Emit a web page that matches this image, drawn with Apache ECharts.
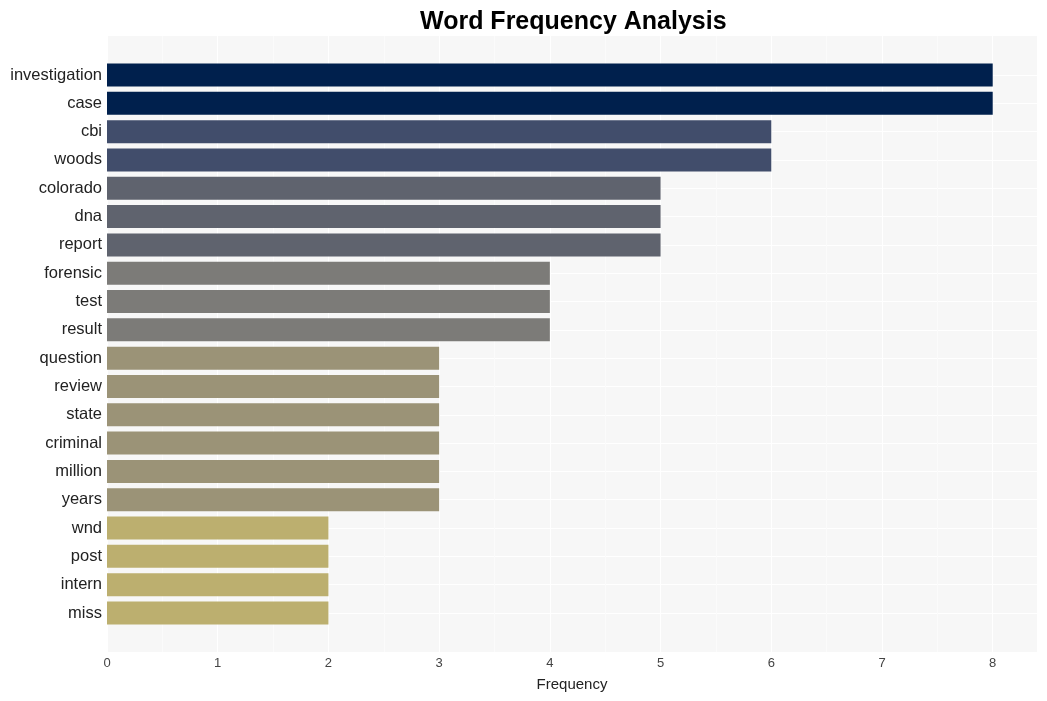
<!DOCTYPE html>
<html>
<head>
<meta charset="utf-8">
<script src="https://cdn.jsdelivr.net/npm/echarts@6/dist/echarts.min.js"></script>
<style>html,body{margin:0;padding:0;background:#fff}#c{width:1047px;height:701px}</style>
</head>
<body>
<div id="c"></div>
<script>
const words = ["investigation","case","cbi","woods","colorado","dna","report","forensic","test","result","question","review","state","criminal","million","years","wnd","post","intern","miss"];
const counts = [8,8,6,6,5,5,5,4,4,4,3,3,3,3,3,3,2,2,2,2];
const xTicks = [0,1,2,3,4,5,6,7,8];
const colorByCount = {8:"#00204d",6:"#414d6b",5:"#5f636e",4:"#7c7b78",3:"#9b9377",2:"#bcaf6f"};

const chart = echarts.init(document.getElementById('c'));
const font = "'Liberation Sans', Arial, sans-serif";
chart.setOption({
  animation: false,
  title: {text: "Word Frequency Analysis", left: 415, top: 5,
    textStyle: {fontFamily: font, fontSize: 25, fontWeight: 'bold', color: '#000'}},
  grid: [
    {left: 107, right: 10, top: 36, bottom: 49, show: true, backgroundColor: '#f7f7f7', borderWidth: 0},
    {left: 107, right: 10, top: 75, bottom: 88, show: false}
  ],
  xAxis: [
    {gridIndex: 0, type: 'value', min: 0, max: 8.4, interval: 1,
     name: 'Frequency', nameLocation: 'middle', nameGap: 25,
     nameTextStyle: {fontFamily: font, fontSize: 15, color: '#222'},
     axisLine: {show: false}, axisTick: {show: false},
     axisLabel: {fontFamily: font, fontSize: 13, color: '#444', margin: 5,
       formatter: v => xTicks.includes(v) ? String(v) : ''},
     splitLine: {show: true, lineStyle: {color: '#ffffff', width: 1}},
     minorTick: {show: false, splitNumber: 2},
     minorSplitLine: {show: true, lineStyle: {color: '#fbfbfb', width: 1}}},
    {gridIndex: 1, type: 'value', min: 0, max: 8.4, show: false}
  ],
  yAxis: [
    {gridIndex: 0, type: 'value', show: false},
    {gridIndex: 1, type: 'category', data: words, inverse: true, boundaryGap: false,
     axisLine: {show: false}, axisTick: {show: false},
     axisLabel: {fontFamily: font, fontSize: 16.5, color: '#222', margin: 5, padding: [8,0,0,0]},
     splitLine: {show: true, lineStyle: {color: '#ffffff', width: 1}}}
  ],
  series: [{
    type: 'bar', xAxisIndex: 1, yAxisIndex: 1, barWidth: 23,
    data: counts.map(v => ({value: v, itemStyle: {color: colorByCount[v]}}))
  }]
});
</script>
</body>
</html>
